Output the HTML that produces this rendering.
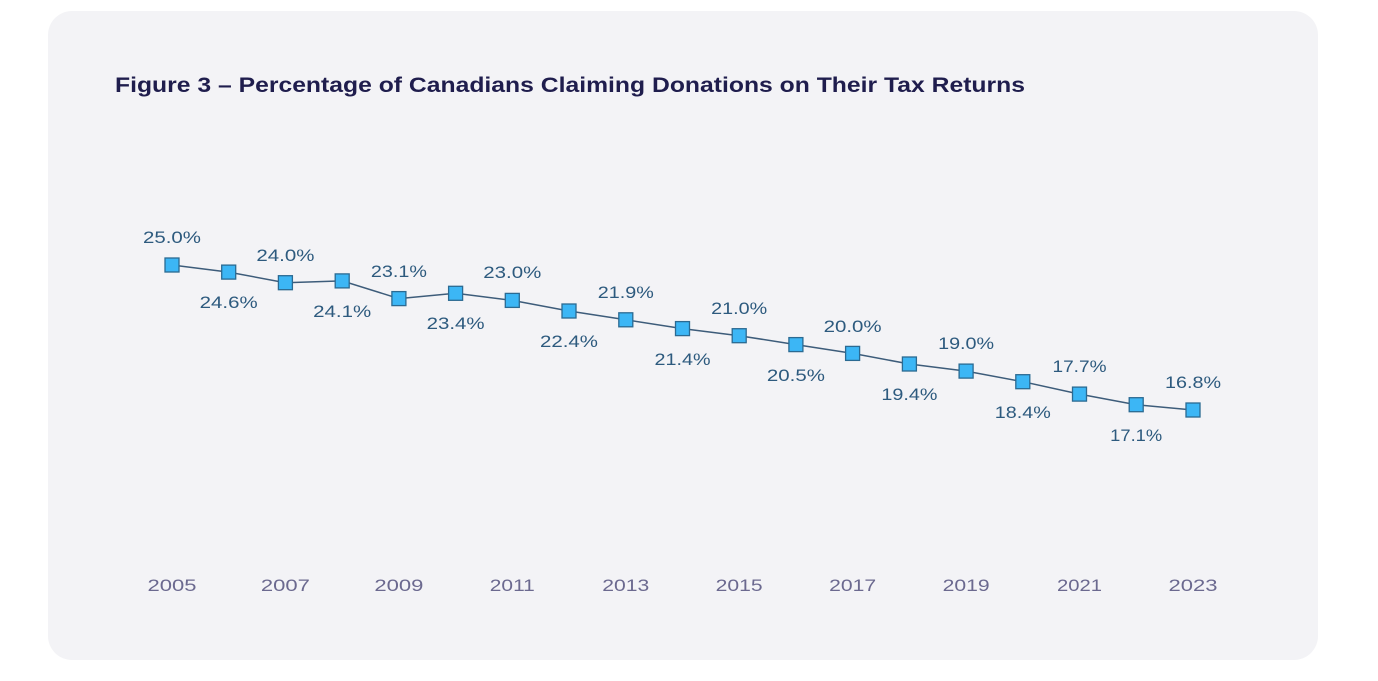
<!DOCTYPE html>
<html><head><meta charset="utf-8"><style>
html,body{margin:0;padding:0;background:#fff;width:1378px;height:681px;overflow:hidden}
.card{position:absolute;left:48px;top:11px;width:1270px;height:649px;background:#f3f3f6;border-radius:24px}
svg{position:absolute;left:0;top:0}
</style></head><body>
<div class="card"></div>
<svg width="1378" height="681" xmlns="http://www.w3.org/2000/svg" font-family="Liberation Sans, sans-serif">
<text x="115" y="92" font-size="21" font-weight="bold" fill="#1f1d4d" textLength="910" lengthAdjust="spacingAndGlyphs">Figure 3 – Percentage of Canadians Claiming Donations on Their Tax Returns</text>
<polyline fill="none" stroke="#3d5c7a" stroke-width="1.5" points="172,265 228.7,272.1 285.4,282.7 342.2,280.9 398.9,298.6 455.6,293.3 512.3,300.4 569,311 625.8,319.8 682.5,328.6 739.2,335.7 795.9,344.6 852.6,353.4 909.4,364 966.1,371.1 1022.8,381.7 1079.5,394.1 1136.2,404.7 1193,410"/>
<g fill="#3cb6f5" stroke="#2b6a92" stroke-width="1.3">
<rect x="165" y="258" width="14" height="14"/>
<rect x="221.7" y="265.1" width="14" height="14"/>
<rect x="278.4" y="275.7" width="14" height="14"/>
<rect x="335.2" y="273.9" width="14" height="14"/>
<rect x="391.9" y="291.6" width="14" height="14"/>
<rect x="448.6" y="286.3" width="14" height="14"/>
<rect x="505.3" y="293.4" width="14" height="14"/>
<rect x="562" y="304" width="14" height="14"/>
<rect x="618.8" y="312.8" width="14" height="14"/>
<rect x="675.5" y="321.6" width="14" height="14"/>
<rect x="732.2" y="328.7" width="14" height="14"/>
<rect x="788.9" y="337.6" width="14" height="14"/>
<rect x="845.6" y="346.4" width="14" height="14"/>
<rect x="902.4" y="357" width="14" height="14"/>
<rect x="959.1" y="364.1" width="14" height="14"/>
<rect x="1015.8" y="374.7" width="14" height="14"/>
<rect x="1072.5" y="387.1" width="14" height="14"/>
<rect x="1129.2" y="397.7" width="14" height="14"/>
<rect x="1186" y="403" width="14" height="14"/>
</g>
<g font-size="17" fill="#2d5a7e" text-anchor="middle">
<text x="172" y="243" textLength="58" lengthAdjust="spacingAndGlyphs">25.0%</text>
<text x="228.7" y="308" textLength="58" lengthAdjust="spacingAndGlyphs">24.6%</text>
<text x="285.4" y="261" textLength="58" lengthAdjust="spacingAndGlyphs">24.0%</text>
<text x="342.2" y="317" textLength="58" lengthAdjust="spacingAndGlyphs">24.1%</text>
<text x="398.9" y="277" textLength="56" lengthAdjust="spacingAndGlyphs">23.1%</text>
<text x="455.6" y="329" textLength="58" lengthAdjust="spacingAndGlyphs">23.4%</text>
<text x="512.3" y="278" textLength="58" lengthAdjust="spacingAndGlyphs">23.0%</text>
<text x="569" y="347" textLength="58" lengthAdjust="spacingAndGlyphs">22.4%</text>
<text x="625.8" y="298" textLength="56" lengthAdjust="spacingAndGlyphs">21.9%</text>
<text x="682.5" y="365" textLength="56" lengthAdjust="spacingAndGlyphs">21.4%</text>
<text x="739.2" y="314" textLength="56" lengthAdjust="spacingAndGlyphs">21.0%</text>
<text x="795.9" y="381" textLength="58" lengthAdjust="spacingAndGlyphs">20.5%</text>
<text x="852.6" y="332" textLength="58" lengthAdjust="spacingAndGlyphs">20.0%</text>
<text x="909.4" y="400" textLength="56" lengthAdjust="spacingAndGlyphs">19.4%</text>
<text x="966.1" y="349" textLength="56" lengthAdjust="spacingAndGlyphs">19.0%</text>
<text x="1022.8" y="418" textLength="56" lengthAdjust="spacingAndGlyphs">18.4%</text>
<text x="1079.5" y="372" textLength="54" lengthAdjust="spacingAndGlyphs">17.7%</text>
<text x="1136.2" y="441" textLength="52" lengthAdjust="spacingAndGlyphs">17.1%</text>
<text x="1193" y="388" textLength="56" lengthAdjust="spacingAndGlyphs">16.8%</text>
</g>
<g font-size="17" fill="#6b698f" text-anchor="middle">
<text x="172" y="591" textLength="49" lengthAdjust="spacingAndGlyphs">2005</text>
<text x="285.4" y="591" textLength="49" lengthAdjust="spacingAndGlyphs">2007</text>
<text x="398.9" y="591" textLength="49" lengthAdjust="spacingAndGlyphs">2009</text>
<text x="512.3" y="591" textLength="45" lengthAdjust="spacingAndGlyphs">2011</text>
<text x="625.8" y="591" textLength="47" lengthAdjust="spacingAndGlyphs">2013</text>
<text x="739.2" y="591" textLength="47" lengthAdjust="spacingAndGlyphs">2015</text>
<text x="852.6" y="591" textLength="47" lengthAdjust="spacingAndGlyphs">2017</text>
<text x="966.1" y="591" textLength="47" lengthAdjust="spacingAndGlyphs">2019</text>
<text x="1079.5" y="591" textLength="45" lengthAdjust="spacingAndGlyphs">2021</text>
<text x="1193" y="591" textLength="49" lengthAdjust="spacingAndGlyphs">2023</text>
</g>
</svg>
</body></html>
